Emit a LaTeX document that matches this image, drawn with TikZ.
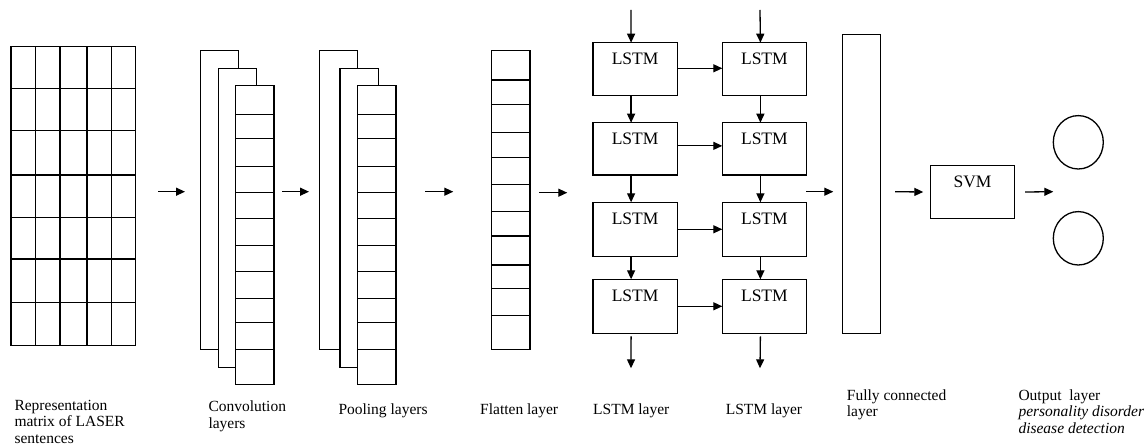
\documentclass[tikz,border=0pt]{standalone}
\usepackage{fontspec}
\setmainfont{Liberation Serif}
\usetikzlibrary{arrows.meta,shapes.geometric}
\begin{document}
\begin{tikzpicture}[x=1pt,y=-1pt,
 box/.style={draw, fill=white, line width=1.4pt, inner sep=0pt, outer sep=0pt, anchor=north west},
 cell/.style={line width=1.4pt},
 arr/.style={line width=1.3pt, -{Triangle[length=9pt,width=8pt]}},
 lab/.style={anchor=base west, align=left, inner sep=0pt, font=\fontsize{15.5}{16.5}\selectfont},
 tag/.style={label={[font=\fontsize{17.5}{20}\selectfont, anchor=north, yshift=-10.5pt, inner sep=0pt]north:#1}},
 col/.style={box, minimum width=38.3pt, minimum height=299pt},
 lstm/.style={box, tag=LSTM, minimum width=84.2pt},
 outc/.style={draw, ellipse, line width=1.3pt, inner sep=0pt, minimum width=50pt, minimum height=53.4pt}
]
\useasboundingbox (0,0) rectangle (1145,446);

% representation matrix
\node[box, minimum width=124.7pt, minimum height=299pt] (mat) at (11,46.7) {};
\foreach \x in {35.3,60,87,111.7} \draw[cell] (\x,46.7) -- (\x,345.7);
\foreach \y in {88.3,130.7,175,217.3,259,302.7} \draw[cell] (11,\y) -- (135.7,\y);

% convolution layers
\node[col] (c1) at (200.3,50.7) {};
\node[col] (c2) at (218.3,68.3) {};
\node[col] (c3) at (235.7,85.7) {};
\foreach \y in {114.3,138.3,166.7,192.3,218.3,245.7,271.7,298.3,322.7,349.7} \draw[cell] (235.7,\y) -- (274,\y);

% pooling layers
\node[col] (p1) at (319.3,50.7) {};
\node[col] (p2) at (340,68.3) {};
\node[col] (p3) at (357.7,85.7) {};
\foreach \y in {114.3,138.3,166.7,192.3,218.3,245.7,271.7,298.3,322.7,349.7} \draw[cell] (357.7,\y) -- (396,\y);

% flatten layer
\node[col] (fl) at (491.7,50.7) {};
\foreach \y in {80,104.3,132.3,157.3,184.3,211.7,236,265,288.7,315.7} \draw[cell] (491.7,\y) -- (530,\y);

% LSTM grid
\node[lstm, minimum height=52.6pt] (l11) at (593,42.7) {};
\node[lstm, minimum height=52.3pt] (l21) at (593,122.7) {};
\node[lstm, minimum height=54pt] (l31) at (593,202.3) {};
\node[lstm, minimum height=54pt] (l41) at (593,279.3) {};
\node[lstm, minimum height=52.6pt] (l12) at (722.3,42.7) {};
\node[lstm, minimum height=52.3pt] (l22) at (722.3,122.7) {};
\node[lstm, minimum height=54pt] (l32) at (722.3,202.3) {};
\node[lstm, minimum height=54pt] (l42) at (722.3,279.3) {};

% fully connected
\node[box, minimum width=38pt, minimum height=299pt] (fc) at (842.7,34.3) {};

% SVM
\node[box, tag=SVM, minimum width=84.4pt, minimum height=53.4pt] (svm) at (930.3,165.3) {};

% output neurons
\node[outc] (o1) at (1078.3,142.3) {};
\node[outc] (o2) at (1078.3,238.3) {};

% free arrow ends
\coordinate (a1s) at (158,191.7);  \coordinate (a1e) at (185,191.7);
\coordinate (a2s) at (282,191.7);  \coordinate (a2e) at (309,191.7);
\coordinate (a3s) at (425,191.7);  \coordinate (a3e) at (453.3,191.7);
\coordinate (a4s) at (539,192.7);  \coordinate (a4e) at (567.3,192.7);
\coordinate (a5s) at (806,191.7);  \coordinate (a5e) at (833.3,191.7);
\coordinate (a6s) at (895,191.7);
\coordinate (a7e) at (1053.3,191.7);
\coordinate (in1) at (631,10);     \coordinate (in2) at (760,10);
\coordinate (out1) at (631,368.3); \coordinate (out2) at (760,368.3);

\draw[arr] (a1s) -- (a1e);
\draw[arr] (a2s) -- (a2e);
\draw[arr] (a3s) -- (a3e);
\draw[arr] (a4s) -- (a4e);
\draw[arr] (a5s) -- (a5e);
\draw[arr] (a6s) -- ([xshift=-7pt]svm.west);
\draw[arr] ([xshift=10.5pt]svm.east) -- (a7e);

% LSTM vertical connections
\draw[arr] (in1) -- ([xshift=-4pt]l11.north);
\draw[arr] ([xshift=-4pt]l11.south) -- ([xshift=-4pt]l21.north);
\draw[arr] ([xshift=-4pt]l21.south) -- ([xshift=-4pt]l31.north);
\draw[arr] ([xshift=-4pt]l31.south) -- ([xshift=-4pt]l41.north);
\draw[arr] ([xshift=-4pt,yshift=-3pt]l41.south) -- (out1);
\draw[arr] (in2) -- ([xshift=-4pt]l12.north);
\draw[arr] ([xshift=-4pt]l12.south) -- ([xshift=-4pt]l22.north);
\draw[arr] ([xshift=-4pt]l22.south) -- ([xshift=-4pt]l32.north);
\draw[arr] ([xshift=-4pt]l32.south) -- ([xshift=-4pt]l42.north);
\draw[arr] ([xshift=-4pt,yshift=-3pt]l42.south) -- (out2);

% LSTM horizontal connections
\draw[arr] ([yshift=0.7pt]l11.east) -- ([yshift=0.7pt]l12.west);
\draw[arr] ([yshift=3pt]l21.east) -- ([yshift=3pt]l22.west);
\draw[arr] (l31.east) -- (l32.west);
\draw[arr] (l41.east) -- (l42.west);

% labels (base anchor = baseline of the last line)
\node[lab] (tmat) at (14.3,443.3) {Representation\\matrix of LASER\\sentences};
\node[lab] (tconv) at (208.3,428.3) {Convolution\\layers};
\node[lab] (tpool) at (338.3,414) {Pooling layers};
\node[lab] (tflat) at (480,414) {Flatten layer};
\node[lab] (tl1) at (593,414) {LSTM layer};
\node[lab] (tl2) at (725.7,414) {LSTM layer};
\node[lab] (tfc) at (846.7,416.7) {Fully connected\\layer};
\node[lab] (tout) at (1018.3,433.3) {Output\ \ layer\\\textit{personality disorder}\\\textit{disease detection}};
\end{tikzpicture}
\end{document}
